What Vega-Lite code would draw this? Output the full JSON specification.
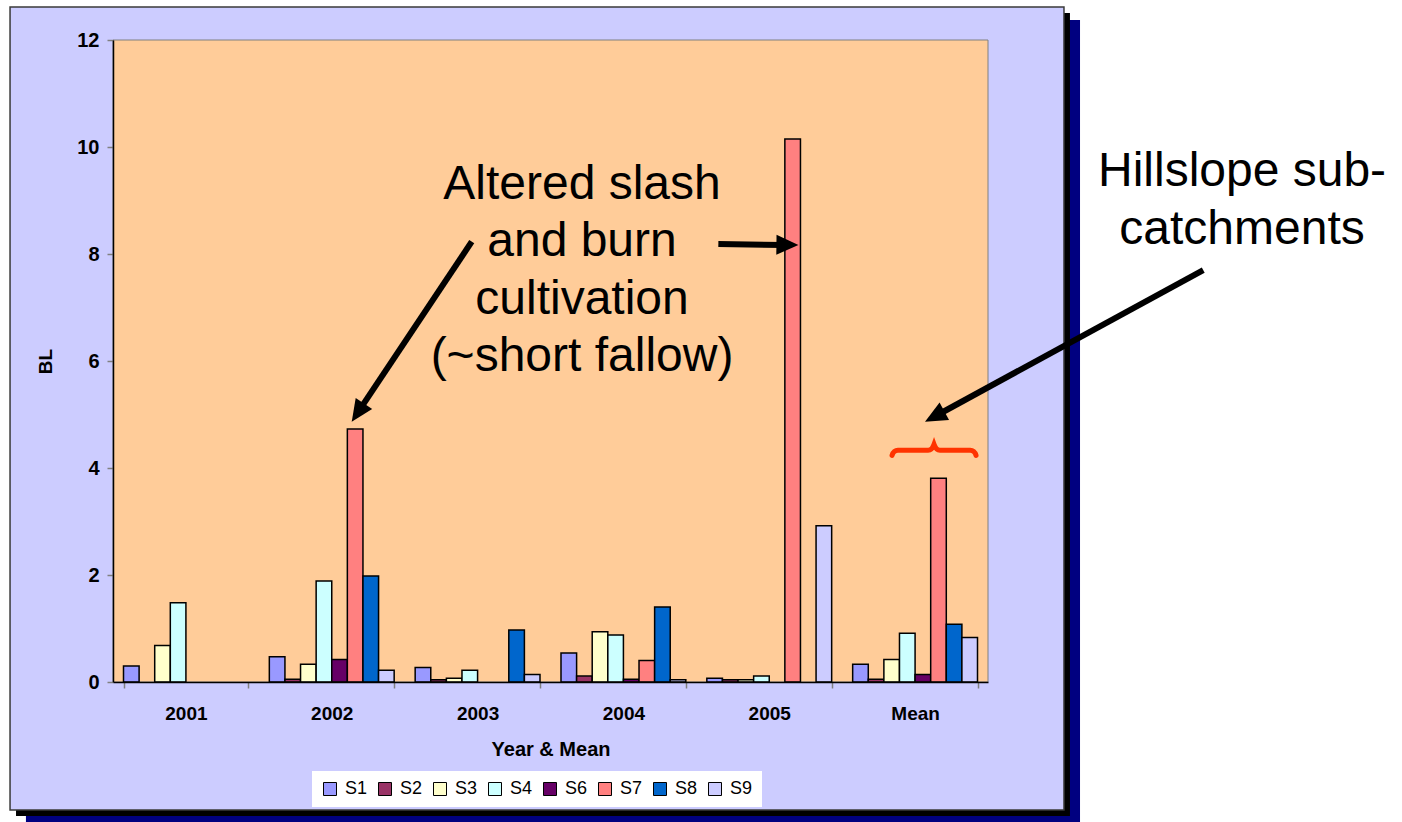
{
  "$schema": "https://vega.github.io/schema/vega-lite/v6.json",
  "width": 875,
  "height": 642,
  "autosize": {"type": "none"},
  "padding": {"left": 113, "top": 40, "right": 414, "bottom": 140},
  "background": "white",
  "config": {
    "view": {"stroke": null},
    "font": "Liberation Sans",
    "text": {"font": "Liberation Sans"}
  },
  "datasets": {
    "bl": [
      {"Year": "2001", "Series": "S1", "BL": 0.30},
      {"Year": "2001", "Series": "S3", "BL": 0.68},
      {"Year": "2001", "Series": "S4", "BL": 1.48},
      {"Year": "2002", "Series": "S1", "BL": 0.47},
      {"Year": "2002", "Series": "S2", "BL": 0.05},
      {"Year": "2002", "Series": "S3", "BL": 0.33},
      {"Year": "2002", "Series": "S4", "BL": 1.89},
      {"Year": "2002", "Series": "S6", "BL": 0.42},
      {"Year": "2002", "Series": "S7", "BL": 4.73},
      {"Year": "2002", "Series": "S8", "BL": 1.98},
      {"Year": "2002", "Series": "S9", "BL": 0.22},
      {"Year": "2003", "Series": "S1", "BL": 0.27},
      {"Year": "2003", "Series": "S2", "BL": 0.04},
      {"Year": "2003", "Series": "S3", "BL": 0.07},
      {"Year": "2003", "Series": "S4", "BL": 0.22},
      {"Year": "2003", "Series": "S8", "BL": 0.97},
      {"Year": "2003", "Series": "S9", "BL": 0.14},
      {"Year": "2004", "Series": "S1", "BL": 0.54},
      {"Year": "2004", "Series": "S2", "BL": 0.11},
      {"Year": "2004", "Series": "S3", "BL": 0.94},
      {"Year": "2004", "Series": "S4", "BL": 0.88},
      {"Year": "2004", "Series": "S6", "BL": 0.05},
      {"Year": "2004", "Series": "S7", "BL": 0.40},
      {"Year": "2004", "Series": "S8", "BL": 1.40},
      {"Year": "2004", "Series": "S9", "BL": 0.04},
      {"Year": "2005", "Series": "S1", "BL": 0.07},
      {"Year": "2005", "Series": "S2", "BL": 0.04},
      {"Year": "2005", "Series": "S3", "BL": 0.04},
      {"Year": "2005", "Series": "S4", "BL": 0.11},
      {"Year": "2005", "Series": "S7", "BL": 10.15},
      {"Year": "2005", "Series": "S9", "BL": 2.92},
      {"Year": "Mean", "Series": "S1", "BL": 0.33},
      {"Year": "Mean", "Series": "S2", "BL": 0.05},
      {"Year": "Mean", "Series": "S3", "BL": 0.42},
      {"Year": "Mean", "Series": "S4", "BL": 0.91},
      {"Year": "Mean", "Series": "S6", "BL": 0.14},
      {"Year": "Mean", "Series": "S7", "BL": 3.81},
      {"Year": "Mean", "Series": "S8", "BL": 1.08},
      {"Year": "Mean", "Series": "S9", "BL": 0.83}
    ],
    "one": [{}]
  },
  "resolve": {
    "scale": {"x": "independent", "y": "independent"},
    "axis": {"x": "independent", "y": "independent"}
  },
  "layer": [
    {
      "description": "outer drop shadow (navy)",
      "data": {"name": "one"},
      "mark": {"type": "rect", "fill": "#000080"},
      "encoding": {
        "x": {"datum": -0.597, "type": "quantitative", "scale": {"domain": [0, 6], "nice": false, "zero": false}, "axis": null},
        "x2": {"datum": 6.631},
        "y": {"datum": 12.374, "type": "quantitative", "scale": {"domain": [0, 12], "nice": false}, "axis": null},
        "y2": {"datum": -2.692}
      }
    },
    {
      "description": "inner drop shadow (black)",
      "data": {"name": "one"},
      "mark": {"type": "rect", "fill": "#000000"},
      "encoding": {
        "x": {"datum": -0.665, "type": "quantitative", "scale": {"domain": [0, 6], "nice": false, "zero": false}, "axis": null},
        "x2": {"datum": 6.562},
        "y": {"datum": 12.505, "type": "quantitative", "scale": {"domain": [0, 12], "nice": false}, "axis": null},
        "y2": {"datum": -2.505}
      }
    },
    {
      "description": "chart area",
      "data": {"name": "one"},
      "mark": {"type": "rect", "fill": "#CCCCFF", "stroke": "#3a3a3a", "strokeWidth": 1.5},
      "encoding": {
        "x": {"datum": -0.706, "type": "quantitative", "scale": {"domain": [0, 6], "nice": false, "zero": false}, "axis": null},
        "x2": {"datum": 6.521},
        "y": {"datum": 12.617, "type": "quantitative", "scale": {"domain": [0, 12], "nice": false}, "axis": null},
        "y2": {"datum": -2.393}
      }
    },
    {
      "description": "plot area",
      "data": {"name": "one"},
      "mark": {"type": "rect", "fill": "#FFCC99", "stroke": "#808080", "strokeWidth": 1},
      "encoding": {
        "x": {"datum": 0, "type": "quantitative", "scale": {"domain": [0, 6], "nice": false, "zero": false}, "axis": null},
        "x2": {"datum": 6},
        "y": {"datum": 12, "type": "quantitative", "scale": {"domain": [0, 12], "nice": false}, "axis": null},
        "y2": {"datum": 0}
      }
    },
    {
      "data": {"name": "bl"},
      "mark": {"type": "bar", "stroke": "#000000", "strokeWidth": 1.5},
      "encoding": {
        "x": {
          "field": "Year", "type": "nominal",
          "sort": ["2001", "2002", "2003", "2004", "2005", "Mean"],
          "scale": {"paddingInner": 0.144, "paddingOuter": 0.072},
          "axis": {
            "title": "Year & Mean", "labelAngle": 0, "zindex": 1,
            "labelFont": "Liberation Sans", "labelFontSize": 19, "labelFontWeight": "bold", "labelColor": "#000000",
            "labelPadding": 16, "tickBand": "extent", "tickSize": 6, "tickColor": "#808080", "tickWidth": 1.5,
            "domainColor": "#000000", "domainWidth": 1.5,
            "titleFont": "Liberation Sans", "titleFontSize": 20, "titleFontWeight": "bold", "titleColor": "#000000", "titlePadding": 16,
            "grid": false
          }
        },
        "xOffset": {
          "field": "Series", "type": "nominal",
          "scale": {"domain": ["S1", "S2", "S3", "S4", "S6", "S7", "S8", "S9"], "paddingInner": 0, "paddingOuter": 0}
        },
        "y": {
          "field": "BL", "type": "quantitative",
          "scale": {"domain": [0, 12], "nice": false},
          "axis": {
            "title": "BL", "values": [0, 2, 4, 6, 8, 10, 12], "format": "d", "zindex": 1,
            "labelFont": "Liberation Sans", "labelFontSize": 20, "labelFontWeight": "bold", "labelColor": "#000000",
            "labelPadding": 8, "tickSize": 6, "tickColor": "#808080", "tickWidth": 1.5,
            "domainColor": "#000000", "domainWidth": 1.5,
            "titleFont": "Liberation Sans", "titleFontSize": 19, "titleFontWeight": "bold", "titleColor": "#000000", "titlePadding": 21,
            "grid": false
          }
        },
        "color": {
          "field": "Series", "type": "nominal",
          "scale": {
            "domain": ["S1", "S2", "S3", "S4", "S6", "S7", "S8", "S9"],
            "range": ["#9999FF", "#993366", "#FFFFCC", "#CCFFFF", "#660066", "#FF8080", "#0066CC", "#CCCCFF"]
          },
          "legend": {
            "title": null, "orient": "none", "legendX": 199, "legendY": 731, "direction": "horizontal",
            "fillColor": "#FFFFFF", "padding": 9, "zindex": 1,
            "symbolType": "square", "symbolSize": 169, "symbolStrokeColor": "#000000", "symbolStrokeWidth": 1,
            "labelFont": "Liberation Sans", "labelFontSize": 18, "labelColor": "#000000", "labelOffset": 6,
            "columnPadding": 8
          }
        }
      }
    },
    {
      "description": "brace over the mean group",
      "data": {"name": "one"},
      "mark": {
        "type": "point", "filled": false, "stroke": "#FF3300", "strokeWidth": 5, "strokeCap": "round", "opacity": 1,
        "size": 7056,
        "shape": "M-1,0.12 Q-0.96,0 -0.86,0 L-0.14,0 Q-0.05,0 0,-0.14 Q0.05,0 0.14,0 L0.86,0 Q0.96,0 1,0.12"
      },
      "encoding": {
        "x": {"datum": 5.63, "type": "quantitative", "scale": {"domain": [0, 6], "nice": false, "zero": false}, "axis": null},
        "y": {"datum": 4.33, "type": "quantitative", "scale": {"domain": [0, 12], "nice": false}, "axis": null}
      }
    },
    {
      "description": "arrow shaft to the 2002 S7 bar",
      "data": {"name": "one"},
      "mark": {"type": "rule", "color": "#000000", "strokeWidth": 6},
      "encoding": {
        "x": {"datum": 2.460, "type": "quantitative", "scale": {"domain": [0, 6], "nice": false, "zero": false}, "axis": null},
        "x2": {"datum": 1.694},
        "y": {"datum": 8.23, "type": "quantitative", "scale": {"domain": [0, 12], "nice": false}, "axis": null},
        "y2": {"datum": 5.099}
      }
    },
    {
      "description": "arrow shaft to the 2005 S7 bar",
      "data": {"name": "one"},
      "mark": {"type": "rule", "color": "#000000", "strokeWidth": 6},
      "encoding": {
        "x": {"datum": 4.151, "type": "quantitative", "scale": {"domain": [0, 6], "nice": false, "zero": false}, "axis": null},
        "x2": {"datum": 4.597},
        "y": {"datum": 8.187, "type": "quantitative", "scale": {"domain": [0, 12], "nice": false}, "axis": null},
        "y2": {"datum": 8.168}
      }
    },
    {
      "description": "arrow shaft to the mean group",
      "data": {"name": "one"},
      "mark": {"type": "rule", "color": "#000000", "strokeWidth": 6},
      "encoding": {
        "x": {"datum": 7.476, "type": "quantitative", "scale": {"domain": [0, 6], "nice": false, "zero": false}, "axis": null},
        "x2": {"datum": 5.659},
        "y": {"datum": 7.70, "type": "quantitative", "scale": {"domain": [0, 12], "nice": false}, "axis": null},
        "y2": {"datum": 5.0}
      }
    },
    {
      "description": "arrow head, 2002",
      "data": {"name": "one"},
      "mark": {"type": "point", "filled": true, "color": "#000000", "opacity": 1, "strokeWidth": 0, "size": 1936, "angle": 213.7, "shape": "M0,0L0.45,1L-0.45,1Z"},
      "encoding": {
        "x": {"datum": 1.637, "type": "quantitative", "scale": {"domain": [0, 6], "nice": false, "zero": false}, "axis": null},
        "y": {"datum": 4.865, "type": "quantitative", "scale": {"domain": [0, 12], "nice": false}, "axis": null}
      }
    },
    {
      "description": "arrow head, 2005",
      "data": {"name": "one"},
      "mark": {"type": "point", "filled": true, "color": "#000000", "opacity": 1, "strokeWidth": 0, "size": 1936, "angle": 90.7, "shape": "M0,0L0.45,1L-0.45,1Z"},
      "encoding": {
        "x": {"datum": 4.70, "type": "quantitative", "scale": {"domain": [0, 6], "nice": false, "zero": false}, "axis": null},
        "y": {"datum": 8.168, "type": "quantitative", "scale": {"domain": [0, 12], "nice": false}, "axis": null}
      }
    },
    {
      "description": "arrow head, mean",
      "data": {"name": "one"},
      "mark": {"type": "point", "filled": true, "color": "#000000", "opacity": 1, "strokeWidth": 0, "size": 1936, "angle": 241.4, "shape": "M0,0L0.45,1L-0.45,1Z"},
      "encoding": {
        "x": {"datum": 5.568, "type": "quantitative", "scale": {"domain": [0, 6], "nice": false, "zero": false}, "axis": null},
        "y": {"datum": 4.865, "type": "quantitative", "scale": {"domain": [0, 12], "nice": false}, "axis": null}
      }
    },
    {
      "data": {"name": "one"},
      "mark": {
        "type": "text", "text": ["Altered slash", "and burn", "cultivation", "(~short fallow)"],
        "font": "Liberation Sans", "fontSize": 48, "lineHeight": 57.5, "align": "center", "baseline": "middle", "color": "#000000"
      },
      "encoding": {
        "x": {"datum": 3.216, "type": "quantitative", "scale": {"domain": [0, 6], "nice": false, "zero": false}, "axis": null},
        "y": {"datum": 9.29, "type": "quantitative", "scale": {"domain": [0, 12], "nice": false}, "axis": null}
      }
    },
    {
      "data": {"name": "one"},
      "mark": {
        "type": "text", "text": ["Hillslope sub-", "catchments"],
        "font": "Liberation Sans", "fontSize": 48, "lineHeight": 58, "align": "center", "baseline": "middle", "color": "#000000"
      },
      "encoding": {
        "x": {"datum": 7.742, "type": "quantitative", "scale": {"domain": [0, 6], "nice": false, "zero": false}, "axis": null},
        "y": {"datum": 9.53, "type": "quantitative", "scale": {"domain": [0, 12], "nice": false}, "axis": null}
      }
    }
  ]
}
